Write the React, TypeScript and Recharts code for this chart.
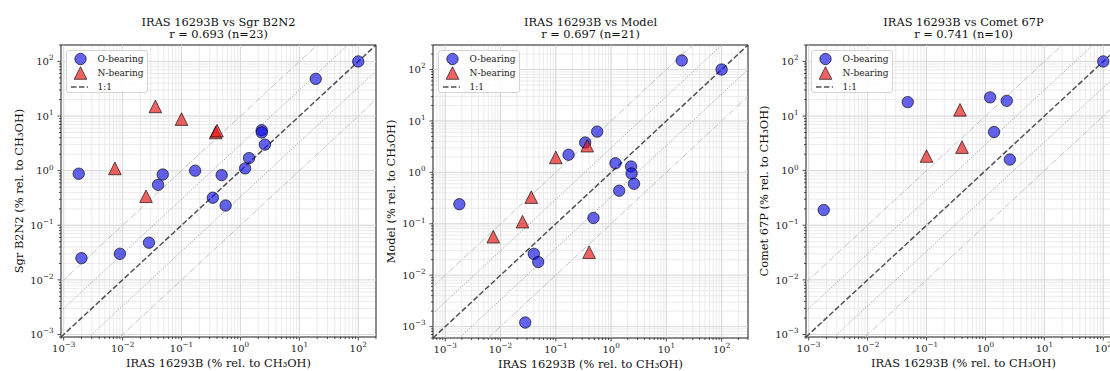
import React from 'react';
import { ScatterChart, Scatter, XAxis, YAxis, CartesianGrid, ReferenceLine, ReferenceArea } from 'recharts';

type Pt = [number, number];

// ---- data (x = IRAS 16293B, y = comparison source), % rel. to CH3OH ----
const b2n2OBearing: Pt[] = [
  [100, 100], [19, 48], [2.3, 5.5], [2.3, 5.0], [2.6, 3.0], [1.4, 1.7], [1.2, 1.1],
  [0.48, 0.83], [0.17, 1.0], [0.048, 0.85], [0.0018, 0.88], [0.04, 0.55], [0.34, 0.32],
  [0.56, 0.23], [0.028, 0.048], [0.009, 0.03], [0.002, 0.025],
];
const b2n2NBearing: Pt[] = [
  [0.036, 15], [0.1, 8.8], [0.38, 5.0], [0.4, 5.4], [0.0074, 1.1], [0.025, 0.34],
];
const modelOBearing: Pt[] = [
  [19, 150], [100, 100], [0.56, 6.2], [0.34, 3.8], [0.17, 2.2], [1.2, 1.5], [2.3, 1.3],
  [2.35, 0.95], [2.6, 0.6], [1.4, 0.44], [0.0018, 0.24], [0.48, 0.13], [0.04, 0.026],
  [0.048, 0.018], [0.028, 0.0012],
];
const modelNBearing: Pt[] = [
  [0.37, 3.3], [0.1, 1.95], [0.036, 0.33], [0.025, 0.11], [0.0074, 0.056], [0.4, 0.028],
];
const cometOBearing: Pt[] = [
  [100, 100], [0.048, 18], [1.2, 22], [2.3, 19], [1.4, 5.1], [2.6, 1.6], [0.0018, 0.19],
];
const cometNBearing: Pt[] = [[0.37, 13], [0.4, 2.7], [0.1, 1.85]];

const limitsB2N2: [number, number] = [0.0009, 200];
const limitsModel: [number, number] = [0.0006, 300];
const limitsComet: [number, number] = [0.0009, 200];

const titles = ['IRAS 16293B vs Sgr B2N2', 'IRAS 16293B vs Model', 'IRAS 16293B vs Comet 67P'];
const subtitles = ['r = 0.693 (n=23)', 'r = 0.697 (n=21)', 'r = 0.741 (n=10)'];
const yLabels = ['Sgr B2N2 (% rel. to CH₃OH)', 'Model (% rel. to CH₃OH)', 'Comet 67P (% rel. to CH₃OH)'];
const xLabel = 'IRAS 16293B (% rel. to CH₃OH)';
const legendLabels = ['O-bearing', 'N-bearing', '1:1'];

const majorExponents = [-4, -3, -2, -1, 0, 1, 2];
const minorMultipliers = [2, 3, 4, 5, 6, 7, 8, 9];
const guideFactors = [10, 3, 1 / 3, 1 / 10];

const FONT = '"DejaVu Serif", serif';
const O_FILL = '#1010e0';
const N_FILL = '#e81010';

const toData = (pts: Pt[]) => pts.map(([x, y]) => ({ x, y }));

function buildTicks(lim: [number, number]) {
  const t: number[] = [];
  majorExponents.forEach((e) => {
    const base = Math.pow(10, e);
    [1, ...minorMultipliers].forEach((m) => {
      const v = parseFloat((m * base).toPrecision(6));
      if (v >= lim[0] * 0.9999 && v <= lim[1] * 1.0001) t.push(v);
    });
  });
  return t.sort((a, b) => a - b);
}
function majorsIn(lim: [number, number]) {
  return majorExponents.map((e) => Math.pow(10, e)).filter((v) => v >= lim[0] && v <= lim[1]);
}

const isMajor = (v: number) => {
  const lg = Math.log10(v);
  return Math.abs(lg - Math.round(lg)) < 1e-6;
};
const expText = (v: number) => {
  const e = Math.round(Math.log10(v));
  return e < 0 ? '\u2212' + String(-e) : String(e);
};

const XTick = (props: any) => {
  const { x, y, payload } = props;
  const v = payload.value as number;
  const major = isMajor(v);
  return (
    <g>
      <line x1={x} x2={x} y1={y} y2={y + (major ? 3.5 : 2)} stroke="#222" strokeWidth={0.8} />
      {major && (
        <text x={x} y={y + 14.8} textAnchor="middle" fontSize={10} fill="#222" fontFamily={FONT}>
          <tspan>10</tspan>
          <tspan dy={-4.8} fontSize={7.2}>{expText(v)}</tspan>
        </text>
      )}
    </g>
  );
};
const YTick = (props: any) => {
  const { x, y, payload } = props;
  const v = payload.value as number;
  const major = isMajor(v);
  return (
    <g>
      <line x1={x} x2={x - (major ? 3.5 : 2)} y1={y} y2={y} stroke="#222" strokeWidth={0.8} />
      {major && (
        <text x={x - 7.5} y={y + 3.7} textAnchor="end" fontSize={10} fill="#222" fontFamily={FONT}>
          <tspan>10</tspan>
          <tspan dy={-4.8} fontSize={7.2}>{expText(v)}</tspan>
        </text>
      )}
    </g>
  );
};

const CircleMark = (p: any) => (
  <circle cx={p.cx} cy={p.cy} r={5.7} fill={O_FILL} fillOpacity={0.65} stroke="#000" strokeOpacity={0.7} strokeWidth={0.9} />
);
const TriMark = (p: any) => {
  const s = 6.3;
  return (
    <polygon
      points={`${p.cx},${p.cy - s} ${p.cx - s},${p.cy + s} ${p.cx + s},${p.cy + s}`}
      fill={N_FILL}
      fillOpacity={0.65}
      stroke="#000"
      strokeOpacity={0.7}
      strokeWidth={0.9}
    />
  );
};

const Legend = ({ left, top }: { left: number; top: number }) => (
  <div
    style={{
      position: 'absolute', left, top, width: 82, height: 43, boxSizing: 'border-box',
      border: '1px solid #d4d4d4', borderRadius: 3, background: 'rgba(255,255,255,0.85)',
      fontFamily: FONT, fontSize: 9, color: '#222',
    }}
  >
    {legendLabels.map((lab, i) => (
      <div key={lab} style={{ position: 'absolute', left: 0, top: 0.5 + i * 14, height: 14, width: 80 }}>
        <svg width={30} height={14} style={{ position: 'absolute', left: 0, top: 0 }}>
          {i === 0 && <CircleMark cx={13.5} cy={7} />}
          {i === 1 && <TriMark cx={13.5} cy={7} />}
          {i === 2 && <line x1={4} x2={21} y1={7} y2={7} stroke="#333" strokeOpacity={0.85} strokeWidth={1.5} strokeDasharray="5.5 2.4" />}
        </svg>
        <span style={{ position: 'absolute', left: 31, top: 0, lineHeight: '14px', whiteSpace: 'nowrap' }}>{lab}</span>
      </div>
    ))}
  </div>
);

type PanelProps = {
  idx: number; left: number; xAxisHeight: number; lim: [number, number]; oPts: Pt[]; nPts: Pt[];
};

const CHART_W = 381;
const Y_AXIS_W = 61;
const MARGIN_R = 5;
const PLOT_W = CHART_W - Y_AXIS_W - MARGIN_R;

const Panel = ({ idx, left, xAxisHeight, lim, oPts, nPts }: PanelProps) => {
  const ticks = buildTicks(lim);
  const majors = majorsIn(lim);
  const [lo, hi] = lim;
  return (
    <div style={{ position: 'absolute', left, top: 0, width: CHART_W, height: 371 }}>
      <div
        style={{
          position: 'absolute', left: Y_AXIS_W, width: PLOT_W, top: 15.5, textAlign: 'center',
          fontFamily: FONT, fontSize: 11.4, lineHeight: '12.6px', color: '#111', whiteSpace: 'nowrap',
        }}
      >
        {titles[idx]}
        <br />
        {subtitles[idx]}
      </div>
      <ScatterChart width={CHART_W} height={371} margin={{ top: 45, right: MARGIN_R, bottom: 0, left: 0 }}>
        <CartesianGrid stroke="#e6e6e6" strokeWidth={0.8} />
        {majors.map((v) => (
          <ReferenceLine key={'gx' + v} x={v} stroke="#d4d4d4" strokeWidth={0.8} ifOverflow="visible" />
        ))}
        {majors.map((v) => (
          <ReferenceLine key={'gy' + v} y={v} stroke="#d4d4d4" strokeWidth={0.8} ifOverflow="visible" />
        ))}
        <XAxis
          type="number"
          dataKey="x"
          scale="log"
          domain={lim}
          allowDataOverflow
          ticks={ticks}
          interval={0}
          tick={<XTick />}
          tickLine={false}
          tickSize={0}
          tickMargin={0}
          axisLine={false}
          height={xAxisHeight}
          label={(p: any) => {
            const vb = p.viewBox;
            return (
              <text x={vb.x + vb.width / 2} y={vb.y + 30} textAnchor="middle" fontFamily={FONT} fontSize={11.4} fill="#111">
                {xLabel}
              </text>
            );
          }}
        />
        <YAxis
          type="number"
          dataKey="y"
          scale="log"
          domain={lim}
          allowDataOverflow
          ticks={ticks}
          interval={0}
          tick={<YTick />}
          tickLine={false}
          tickSize={0}
          tickMargin={0}
          axisLine={false}
          width={Y_AXIS_W}
          label={(p: any) => {
            const vb = p.viewBox;
            const bx = vb.x + vb.width - 38.3;
            const cy = vb.y + vb.height / 2;
            return (
              <text x={bx} y={cy} transform={`rotate(-90 ${bx} ${cy})`} textAnchor="middle" fontFamily={FONT} fontSize={11.4} fill="#111">
                {yLabels[idx]}
              </text>
            );
          }}
        />
        {guideFactors.map((k) => {
          const seg = k >= 1
            ? [{ x: lo, y: lo * k }, { x: hi / k, y: hi }]
            : [{ x: lo / k, y: lo }, { x: hi, y: hi * k }];
          const far = Math.abs(Math.log10(k)) > 0.9;
          return (
            <ReferenceLine
              key={'g' + k}
              segment={seg as any}
              stroke={far ? '#c4c4c4' : '#9a9a9a'}
              strokeWidth={1}
              strokeDasharray={far ? '6.4 1.6 1 1.6' : '1 1.65'}
              ifOverflow="visible"
            />
          );
        })}
        <ReferenceLine
          segment={[{ x: lo, y: lo }, { x: hi, y: hi }] as any}
          stroke="#333"
          strokeOpacity={0.85}
          strokeWidth={1.5}
          strokeDasharray="5.5 2.4"
          ifOverflow="visible"
        />
        <Scatter name="O-bearing" data={toData(oPts)} shape={CircleMark} isAnimationActive={false} />
        <Scatter name="N-bearing" data={toData(nPts)} shape={TriMark} isAnimationActive={false} />
        <ReferenceArea x1={lo} x2={hi} y1={lo} y2={hi} fill="none" fillOpacity={0} stroke="#222" strokeWidth={1} ifOverflow="visible" />
      </ScatterChart>
      <Legend left={Y_AXIS_W + 4.5} top={50} />
    </div>
  );
};

export default function App() {
  return (
    <div
      style={{
        position: 'absolute', left: 0, top: 0, width: 1110, height: 371, overflow: 'hidden',
        background: '#fff', fontFamily: FONT,
      }}
    >
      <Panel idx={0} left={0} xAxisHeight={34} lim={limitsB2N2} oPts={b2n2OBearing} nPts={b2n2NBearing} />
      <Panel idx={1} left={372} xAxisHeight={33} lim={limitsModel} oPts={modelOBearing} nPts={modelNBearing} />
      <Panel idx={2} left={745} xAxisHeight={34} lim={limitsComet} oPts={cometOBearing} nPts={cometNBearing} />
    </div>
  );
}
